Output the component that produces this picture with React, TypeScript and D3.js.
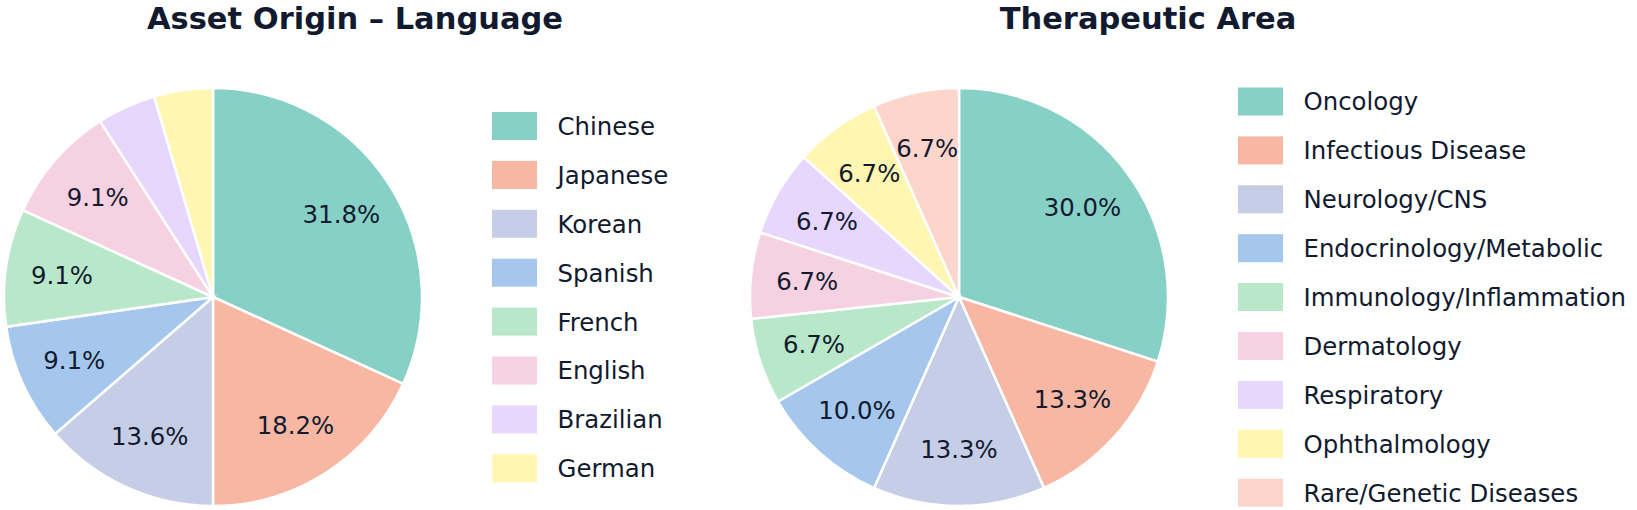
import * as d3 from "d3";

const languageLabels = ["Chinese", "Japanese", "Korean", "Spanish", "French", "English", "Brazilian", "German"];
const languageCounts = [7, 4, 3, 2, 2, 2, 1, 1];

const areaLabels = [
  "Oncology",
  "Infectious Disease",
  "Neurology/CNS",
  "Endocrinology/Metabolic",
  "Immunology/Inflammation",
  "Dermatology",
  "Respiratory",
  "Ophthalmology",
  "Rare/Genetic Diseases",
];
const areaCounts = [9, 4, 4, 3, 2, 2, 2, 2, 2];

const palette = [
  "#87d0c6",
  "#f8b7a3",
  "#c6cde6",
  "#a6c7ed",
  "#b9e7c9",
  "#f6d1e2",
  "#e7d6fd",
  "#fff6b1",
  "#fed5cb",
];

const textColor = "#111a2e";
const fs = 24.4;
const titleFs = 30.5;
const radius = 209;

type PieProps = {
  title: string;
  labels: string[];
  counts: number[];
  cx: number;
  cy: number;
  titleX: number;
  legendX: number;
  legendY: number;
};

function PiePanel({ title, labels, counts, cx, cy, titleX, legendX, legendY }: PieProps) {
  const total = d3.sum(counts);
  const pie = d3.pie<number>().sort(null).value((d) => d);
  const arcs = pie(counts);
  const arc = d3.arc<d3.PieArcDatum<number>>().innerRadius(0).outerRadius(radius);
  const labelArc = d3
    .arc<d3.PieArcDatum<number>>()
    .innerRadius(radius * 0.73)
    .outerRadius(radius * 0.73);
  const color = d3.scaleOrdinal<string, string>().domain(labels).range(palette);
  const rowStep = 48.9;

  return (
    <g>
      <text
        x={titleX}
        y={29}
        textAnchor="middle"
        fontSize={titleFs}
        fontWeight="bold"
        fill={textColor}
      >
        {title}
      </text>
      <g transform={`translate(${cx},${cy})`}>
        {arcs.map((a, i) => (
          <path key={i} d={arc(a) ?? ""} fill={color(labels[i])} stroke="#ffffff" strokeWidth={2.5} />
        ))}
        {arcs.map((a, i) => {
          const pct = (a.data / total) * 100;
          if (pct < 5) return null;
          const [x, y] = labelArc.centroid(a);
          return (
            <text key={i} x={x} y={y + fs * 0.365} textAnchor="middle" fontSize={fs} fill={textColor}>
              {pct.toFixed(1)}%
            </text>
          );
        })}
      </g>
      <g transform={`translate(${legendX},${legendY})`}>
        {labels.map((l, i) => (
          <g key={l} transform={`translate(0,${i * rowStep})`}>
            <rect x={0} y={0} width={45} height={28} fill={color(l)} />
            <text x={65.5} y={14 + fs * 0.365} fontSize={fs} fill={textColor}>
              {l}
            </text>
          </g>
        ))}
      </g>
    </g>
  );
}

export default function App() {
  return (
    <svg
      width={1637}
      height={510}
      style={{ position: "absolute", left: 0, top: 0, background: "#ffffff" }}
      fontFamily="DejaVu Sans, sans-serif"
    >
      <PiePanel
        title="Asset Origin – Language"
        labels={languageLabels}
        counts={languageCounts}
        cx={213}
        cy={297}
        titleX={355}
        legendX={492}
        legendY={112}
      />
      <PiePanel
        title="Therapeutic Area"
        labels={areaLabels}
        counts={areaCounts}
        cx={959}
        cy={297}
        titleX={1148}
        legendX={1238}
        legendY={87.5}
      />
    </svg>
  );
}
